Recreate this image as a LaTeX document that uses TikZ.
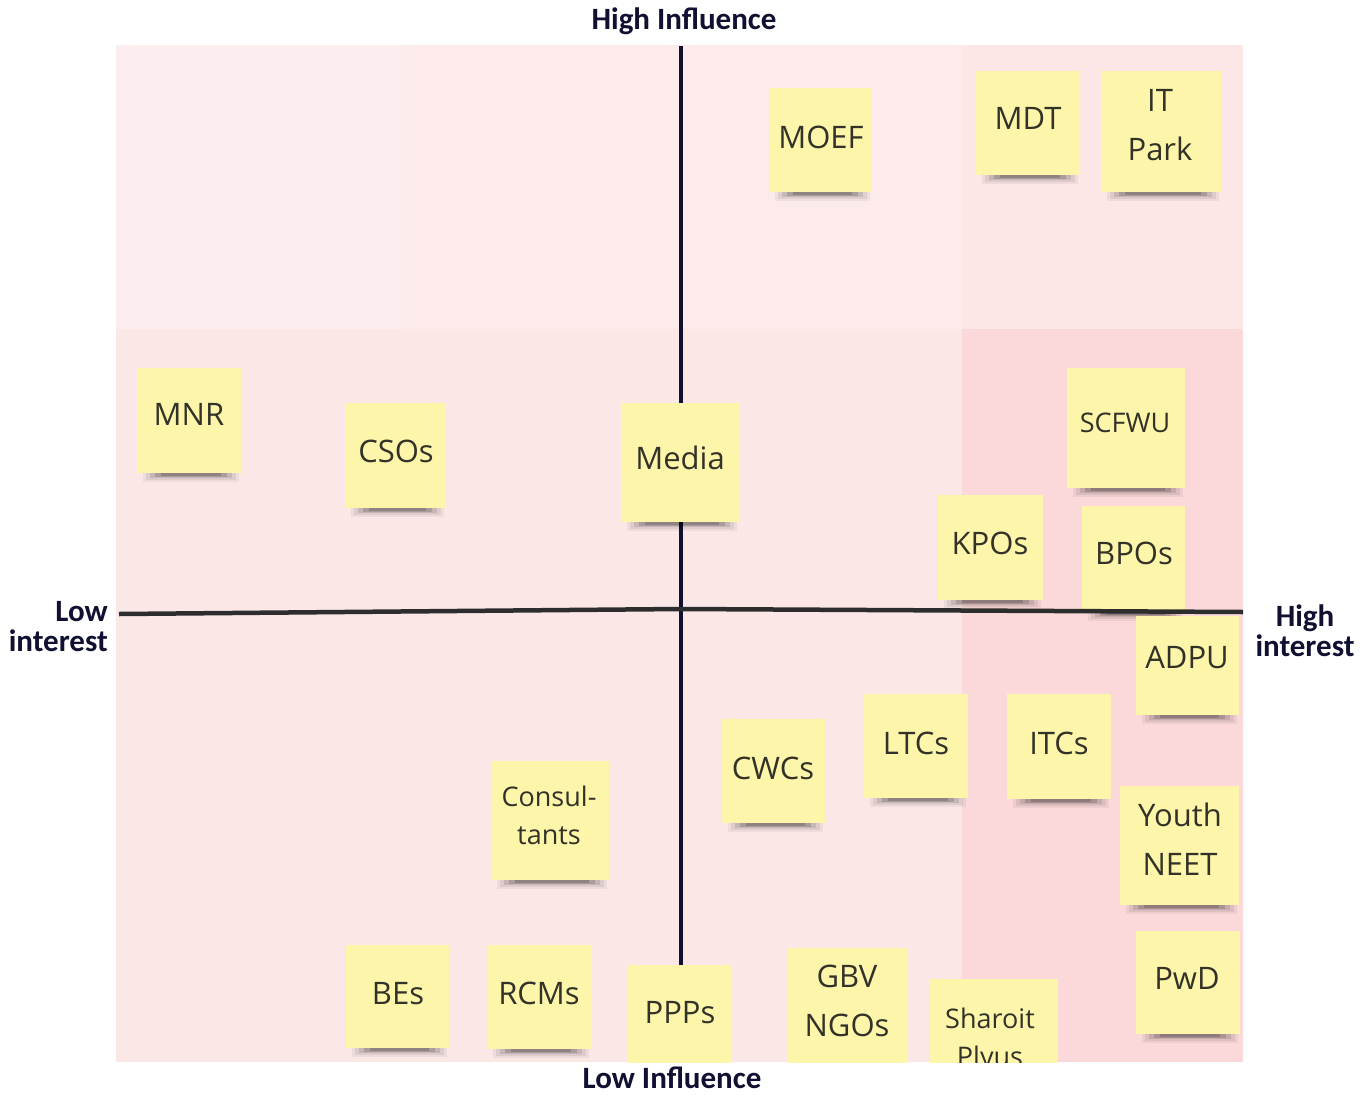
\documentclass[tikz,border=0pt]{standalone}
\usepackage{fontspec}
\setmainfont{Open Sans}
\newfontfamily\labfont{Carlito}
\usetikzlibrary{fit,calc}
\definecolor{bgA}{RGB}{252,238,238}
\definecolor{bgB}{RGB}{253,235,235}
\definecolor{bgC}{RGB}{252,230,230}
\definecolor{bgD}{RGB}{252,231,231}
\definecolor{bgE}{RGB}{251,217,218}
\definecolor{notey}{RGB}{253,246,170}
\definecolor{notetx}{RGB}{50,50,40}
\definecolor{navy}{RGB}{16,16,50}
\definecolor{hline}{RGB}{45,45,45}
\begin{document}
\begin{tikzpicture}[x=1pt,y=-1pt,
  note/.style={fill=notey, draw=none, inner sep=0pt},
  nt/.style={text=notetx, align=center, inner sep=0pt, font=\fontsize{31}{49}\selectfont, text height=22pt, text depth=0pt},
  ntt/.style={nt, text height=71pt},
  nts/.style={nt, font=\fontsize{27}{38.5}\selectfont, text height=19pt},
  ntst/.style={nts, text height=57.5pt},
  lab/.style={text=navy, align=center, inner sep=0pt, font=\labfont\bfseries\fontsize{31}{30}\selectfont},
  sh/.style={fill=black, opacity=#1}]
\useasboundingbox (0,0) rectangle (1371,1095);
% background regions
\fill[bgA] (116,45) rectangle (401,329);
\fill[bgB] (401,45) rectangle (962,329);
\fill[bgC] (962,45) rectangle (1243,329);
\fill[bgD] (116,329) rectangle (962,1062);
\fill[bgE] (962,329) rectangle (1243,1062);
% vertical axis
\coordinate (vtop) at (681,46);
\coordinate (vbot) at (681,1000);
\draw[navy, line width=4.5pt] (vtop) -- (vbot);
\begin{scope}
\clip (116,45) rectangle (1243,1062);
\foreach \n/\l/\t/\r/\b in {
  moef/769/88/872/192, mdt/976/71/1080/175, itpark/1101/71/1221/192,
  mnr/137/368/241/473, csos/345/403/446/508, media/621/403/739/522,
  scfwu/1067/368/1185/488, kpos/938/495/1043/600, bpos/1082/506/1185/612,
  adpu/1136/616/1239/715, cwcs/722/719/825/823, ltcs/864/694/968/798,
  itcs/1007/694/1111/799, consult/491/761/609/880, youth/1120/786/1239/905,
  pwd/1136/931/1240/1034, bes/346/945/449/1048, rcms/487/945/591/1049,
  ppps/628/965/731/1080, gbv/788/948/907/1080, sharoit/930/979/1058/1100}{
  \fill[sh=0.05] (\l+6,\b-2) rectangle (\r-2,\b+9);
  \fill[sh=0.07] (\l+9,\b-2) rectangle (\r-5,\b+7);
  \fill[sh=0.10] (\l+13,\b-2) rectangle (\r-9,\b+5);
  \fill[sh=0.14] (\l+18,\b-2) rectangle (\r-14,\b+3.5);
  \fill[sh=0.16] (\l+24,\b-2) rectangle (\r-20,\b+2.5);
  \node[note, fit={(\l,\t)(\r,\b)}] (\n) {};
}
\node[nt] (moef-t) at (821,137) {MOEF};
\node[nt] (mdt-t) at (1028,118) {MDT};
\node[ntt] (itpark-t) at (1160,125) {IT\\Park};
\node[nt] (mnr-t) at (189,414) {MNR};
\node[nt] (csos-t) at (396,451) {CSOs};
\node[nt] (media-t) at (680,458) {Media};
\node[nts] (scfwu-t) at (1125,423) {SCFWU};
\node[nt] (kpos-t) at (990,543) {KPOs};
\node[nt] (bpos-t) at (1134,553) {BPOs};
\node[nt] (adpu-t) at (1187,657) {ADPU};
\node[nt] (cwcs-t) at (773,768) {CWCs};
\node[nt] (ltcs-t) at (916,743) {LTCs};
\node[nt] (itcs-t) at (1059,743) {ITCs};
\node[ntst] (consult-t) at (549,816) {Consul-\\tants};
\node[ntt] (youth-t) at (1180,840) {Youth\\NEET};
\node[nt] (pwd-t) at (1187,978) {PwD};
\node[nt] (bes-t) at (398,993) {BEs};
\node[nt] (rcms-t) at (539,993) {RCMs};
\node[nt] (ppps-t) at (680,1012) {PPPs};
\node[ntt] (gbv-t) at (847,1001) {GBV\\NGOs};
\node[ntst] (sharoit-t) at (990,1038) {Sharoit\\Plyus};
\end{scope}
% horizontal axis
\coordinate (hl) at (119,614);
\coordinate (hm) at (681,609);
\coordinate (hr) at (1243,612);
\draw[hline, line width=4.5pt] (hl) -- (hm) -- (hr);
% axis labels
\node[lab] (hiinf) at (684,21) {High Influence};
\node[lab] (loinf) at (672,1078) {Low Influence};
\node[lab, align=right, anchor=east] (loint) at (108,627) {Low\\interest};
\node[lab] (hiint) at (1305,631) {High\\interest};
\end{tikzpicture}
\end{document}
